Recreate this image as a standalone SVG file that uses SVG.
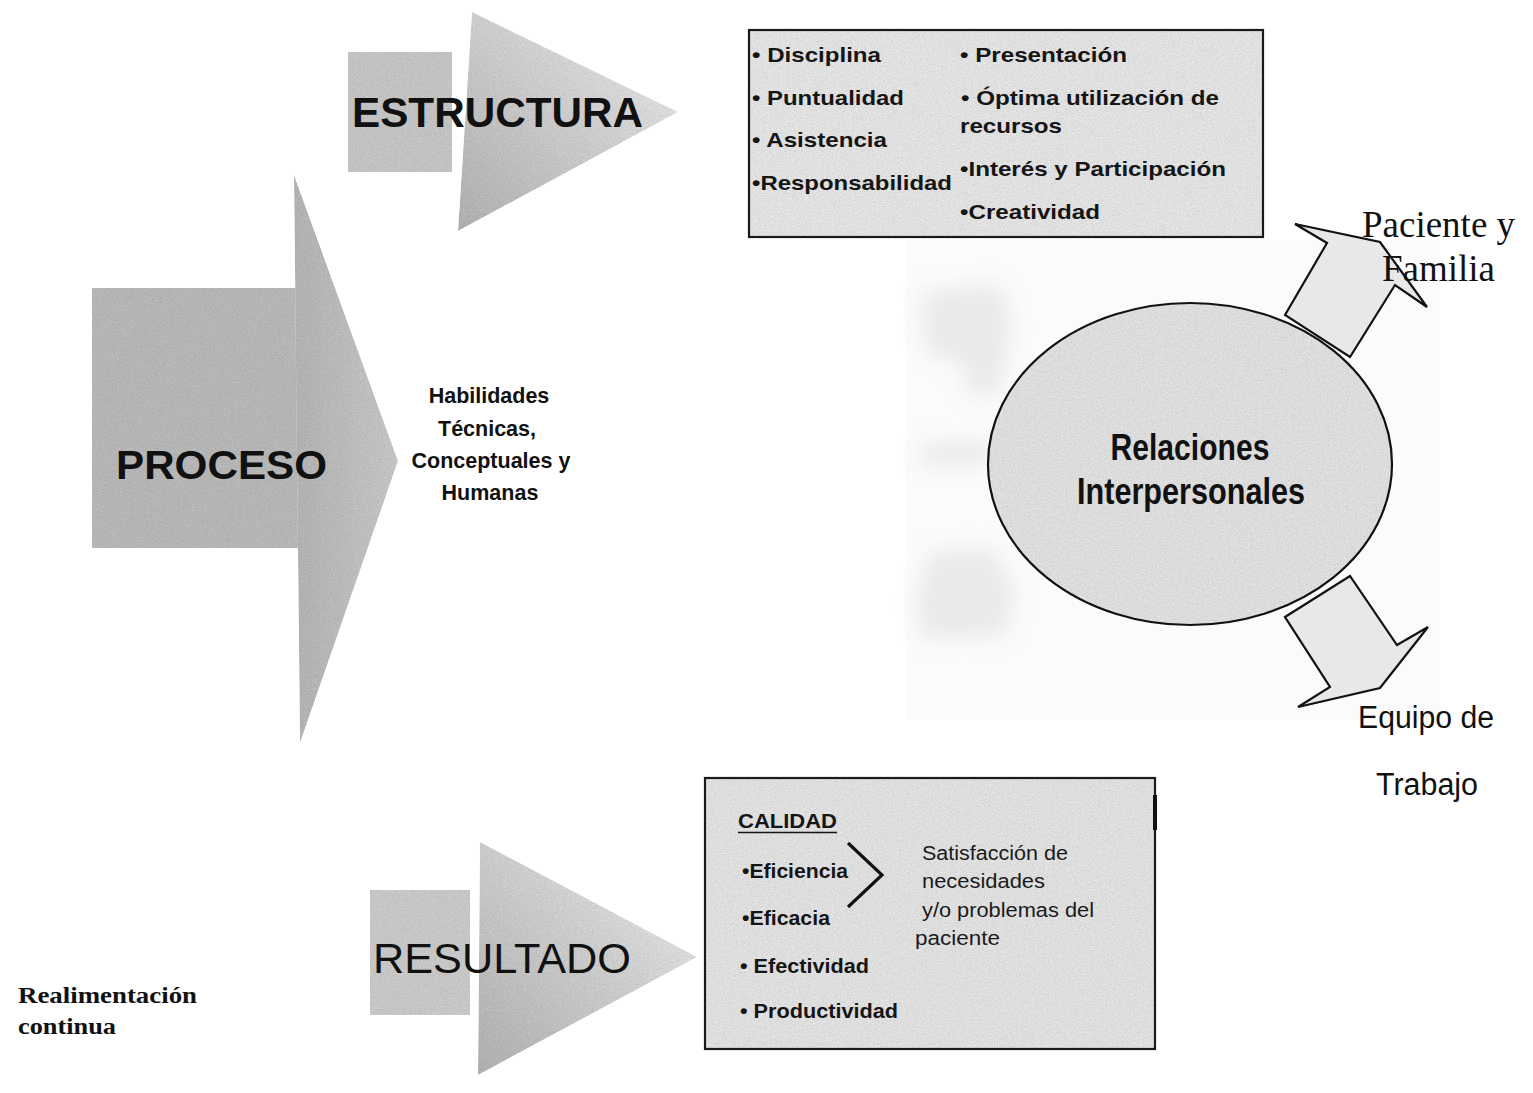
<svg xmlns="http://www.w3.org/2000/svg" width="1533" height="1093" viewBox="0 0 1533 1093">
  <defs>
    <style>
      .sans { font-family: "Liberation Sans", Arial, sans-serif; fill: #111; }
      .serif { font-family: "Liberation Serif", "Times New Roman", serif; fill: #111; }
      .b { font-weight: bold; }
      .item { font-family: "Liberation Sans", Arial, sans-serif; font-weight: bold; font-size: 21px; fill: #151515; }
      .note { font-family: "Liberation Sans", Arial, sans-serif; font-size: 20px; fill: #1a1a1a; }
      .frame { stroke: #1a1a1a; stroke-width: 2.2; }
      .outline { stroke: #111; stroke-width: 2.2; stroke-linejoin: miter; }
    </style>
    <!-- fine paper grain laid over the grey fills -->
    <filter id="grain" x="0" y="0" width="1" height="1" color-interpolation-filters="sRGB">
      <feTurbulence type="fractalNoise" baseFrequency="0.75" numOctaves="2" seed="7" result="noise"/>
      <feColorMatrix in="noise" type="matrix" values="0.33 0.33 0.33 0 0  0.33 0.33 0.33 0 0  0.33 0.33 0.33 0 0  0 0 0 0 1" result="gray"/>
      <feComponentTransfer in="gray" result="soft">
        <feFuncR type="linear" slope="0.35" intercept="0.76"/>
        <feFuncG type="linear" slope="0.35" intercept="0.76"/>
        <feFuncB type="linear" slope="0.35" intercept="0.76"/>
      </feComponentTransfer>
      <feBlend in="SourceGraphic" in2="soft" mode="multiply" result="mix"/>
      <feComposite in="mix" in2="SourceGraphic" operator="in"/>
    </filter>
    <filter id="smudge" x="-40%" y="-40%" width="180%" height="180%">
      <feGaussianBlur stdDeviation="10"/>
    </filter>
    <!-- arrow heads fade from grey at the base to near white at the tip -->
    <linearGradient id="headFade" x1="0" y1="1" x2="1" y2="0">
      <stop offset="0" stop-color="#bababa"/>
      <stop offset="0.55" stop-color="#dcdcdc"/>
      <stop offset="1" stop-color="#fbfbfb"/>
    </linearGradient>
    <linearGradient id="procesoHead" x1="0" y1="0" x2="1" y2="0">
      <stop offset="0" stop-color="#bdbdbd"/>
      <stop offset="1" stop-color="#d2d2d2"/>
    </linearGradient>
  </defs>

  <rect width="1533" height="1093" fill="#ffffff"/>

  <!-- soft backdrop around the relations circle -->
  <g id="backdrop">
    <rect x="905" y="240" width="535" height="480" fill="#fbfbfb"/>
    <g fill="#e4e4e4" filter="url(#smudge)" opacity="0.75">
      <path d="M922,292 L1000,284 L1012,325 L1000,392 L968,396 L962,362 L925,352 Z"/>
      <path d="M920,444 L990,442 L992,464 L922,466 Z"/>
      <path d="M930,552 L992,548 L1016,592 L1004,636 L922,638 L916,600 Z"/>
    </g>
  </g>

  <!-- PROCESO block arrow -->
  <g id="node-proceso">
    <rect x="92" y="288" width="206" height="260" fill="#c2c2c2" filter="url(#grain)"/>
    <path d="M294,175 L398,461 L300,743 Z" fill="url(#procesoHead)" filter="url(#grain)"/>
    <text class="sans b" x="116" y="479" font-size="40" textLength="211" lengthAdjust="spacingAndGlyphs">PROCESO</text>
  </g>

  <!-- Habilidades label to the right of PROCESO -->
  <g id="node-habilidades" class="sans b" font-size="21.5" text-anchor="middle">
    <text x="489" y="403">Habilidades</text>
    <text x="487" y="436">Técnicas,</text>
    <text x="491" y="468">Conceptuales y</text>
    <text x="490" y="500">Humanas</text>
  </g>

  <!-- ESTRUCTURA block arrow -->
  <g id="node-estructura">
    <rect x="348" y="52" width="104" height="120" fill="#d0d0d0" filter="url(#grain)"/>
    <path d="M472,12 L678,112 L458,231 Z" fill="url(#headFade)" filter="url(#grain)"/>
    <text class="sans b" x="352" y="127" font-size="42" textLength="291" lengthAdjust="spacingAndGlyphs">ESTRUCTURA</text>
  </g>

  <!-- ESTRUCTURA attribute list -->
  <g id="node-estructura-list">
    <rect x="749" y="30" width="514" height="207" fill="#f0f0f0" filter="url(#grain)"/>
    <rect x="749" y="30" width="514" height="207" fill="none" class="frame"/>
    <text class="item" x="752" y="62" textLength="129" lengthAdjust="spacingAndGlyphs">• Disciplina</text>
    <text class="item" x="752" y="105" textLength="152" lengthAdjust="spacingAndGlyphs">• Puntualidad</text>
    <text class="item" x="752" y="147" textLength="135" lengthAdjust="spacingAndGlyphs">• Asistencia</text>
    <text class="item" x="752" y="190" textLength="200" lengthAdjust="spacingAndGlyphs">•Responsabilidad</text>
    <text class="item" x="960" y="62" textLength="167" lengthAdjust="spacingAndGlyphs">• Presentación</text>
    <text class="item" x="961" y="105" textLength="258" lengthAdjust="spacingAndGlyphs">• Óptima utilización de</text>
    <text class="item" x="960" y="133" textLength="102" lengthAdjust="spacingAndGlyphs">recursos</text>
    <text class="item" x="960" y="176" textLength="266" lengthAdjust="spacingAndGlyphs">•Interés y Participación</text>
    <text class="item" x="960" y="219" textLength="140" lengthAdjust="spacingAndGlyphs">•Creatividad</text>
  </g>

  <!-- central circle -->
  <g id="node-relaciones">
    <ellipse cx="1190" cy="464" rx="202" ry="161" fill="#ececec" filter="url(#grain)"/>
    <ellipse cx="1190" cy="464" rx="202" ry="161" fill="none" class="outline"/>
    <text class="sans b" x="1190" y="460" font-size="37" text-anchor="middle" textLength="159" lengthAdjust="spacingAndGlyphs">Relaciones</text>
    <text class="sans b" x="1191" y="504" font-size="37" text-anchor="middle" textLength="228" lengthAdjust="spacingAndGlyphs">Interpersonales</text>
  </g>

  <!-- outgoing block arrows from the circle -->
  <g id="connectors">
    <path d="M1285,315 L1327,243 L1295,224 L1380,242 L1427,307 L1395,285 L1350,357 Z" fill="#e8e8e8" class="outline"/>
    <path d="M1285,617 L1350,576 L1397,645 L1428,627 L1380,688 L1298,707 L1330,687 Z" fill="#e8e8e8" class="outline"/>
  </g>

  <g id="node-paciente" class="serif" font-size="37">
    <text x="1362" y="237">Paciente y</text>
    <text x="1382" y="281">Familia</text>
  </g>

  <g id="node-equipo" class="sans" font-size="31">
    <text x="1358" y="728" textLength="136" lengthAdjust="spacingAndGlyphs">Equipo de</text>
    <text x="1376" y="795" textLength="102" lengthAdjust="spacingAndGlyphs">Trabajo</text>
  </g>

  <!-- RESULTADO block arrow -->
  <g id="node-resultado">
    <rect x="370" y="890" width="100" height="125" fill="#d4d4d4" filter="url(#grain)"/>
    <path d="M480,842 L697,957 L478,1075 Z" fill="url(#headFade)" filter="url(#grain)"/>
    <text class="sans" x="373" y="973" font-size="42" textLength="258" lengthAdjust="spacingAndGlyphs">RESULTADO</text>
  </g>

  <!-- CALIDAD panel -->
  <g id="node-calidad">
    <rect x="705" y="778" width="450" height="271" fill="#eeeeee" filter="url(#grain)"/>
    <rect x="705" y="778" width="450" height="271" fill="none" class="frame"/>
    <line x1="1155" y1="795" x2="1155" y2="830" stroke="#111" stroke-width="4"/>
    <text class="item" x="738" y="828" textLength="99" lengthAdjust="spacingAndGlyphs">CALIDAD</text>
    <line x1="738" y1="832.5" x2="837" y2="832.5" stroke="#151515" stroke-width="1.6"/>
    <text class="item" x="742" y="878" textLength="106" lengthAdjust="spacingAndGlyphs">•Eficiencia</text>
    <text class="item" x="742" y="925" textLength="88" lengthAdjust="spacingAndGlyphs">•Eficacia</text>
    <text class="item" x="740" y="973" textLength="129" lengthAdjust="spacingAndGlyphs">• Efectividad</text>
    <text class="item" x="740" y="1018" textLength="158" lengthAdjust="spacingAndGlyphs">• Productividad</text>
    <polyline points="848,843 882,875 848,907" fill="none" stroke="#111" stroke-width="3.2"/>
    <text class="note" x="922" y="860" textLength="146" lengthAdjust="spacingAndGlyphs">Satisfacción de</text>
    <text class="note" x="922" y="888" textLength="123" lengthAdjust="spacingAndGlyphs">necesidades</text>
    <text class="note" x="922" y="917" textLength="172" lengthAdjust="spacingAndGlyphs">y/o problemas del</text>
    <text class="note" x="915" y="945" textLength="85" lengthAdjust="spacingAndGlyphs">paciente</text>
  </g>

  <g id="node-realimentacion" class="serif b" font-size="23">
    <text x="18" y="1003" textLength="179" lengthAdjust="spacingAndGlyphs">Realimentación</text>
    <text x="18" y="1034" textLength="98" lengthAdjust="spacingAndGlyphs">continua</text>
  </g>
</svg>
